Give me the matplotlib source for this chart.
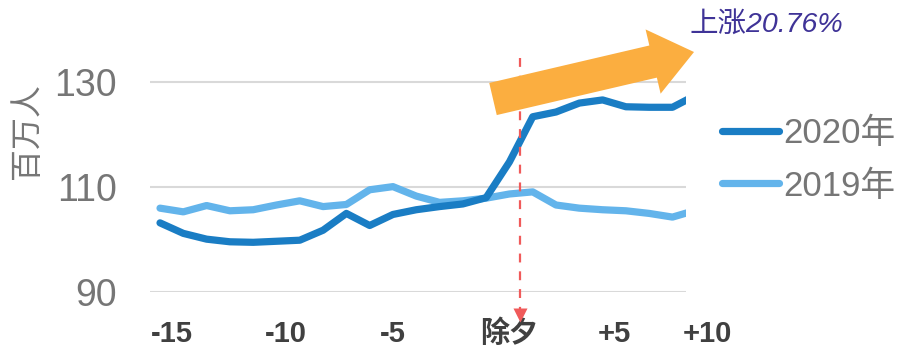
import matplotlib
matplotlib.use("Agg")
from matplotlib import pyplot as plt
from matplotlib import patches, transforms

# data (days relative to New Year's Eve)
days = list(range(-15, 9))
y2020 = [103.1, 101.1, 100.0, 99.5, 99.4, 99.6, 99.8, 101.7, 104.9, 102.6, 104.7, 105.6,
         106.2, 106.7, 107.9, 114.7, 123.3, 124.2, 125.9, 126.5, 125.2, 125.1, 125.1, 127.4]
y2019 = [105.9, 105.2, 106.4, 105.4, 105.6, 106.5, 107.3, 106.2, 106.6, 109.4, 110.0, 108.2,
         107.0, 107.3, 107.8, 108.6, 109.0, 106.5, 105.9, 105.6, 105.4, 104.9, 104.2, 105.5]
yticks = [90, 110, 130]
xtick_pos = [-14.5, -9.6, -5.0, 0.0, 4.5, 8.5]
xtick_labels = ['-15', '-10', '-5', '除夕', '+5', '+10']
eve_x = 0.45
rise_text = '上涨20.76%'

fam = ['Liberation Sans', 'Noto Sans CJK SC']
plt.rcParams['font.family'] = fam

fig = plt.figure(figsize=(9.04, 3.49), dpi=100)
ax = fig.add_axes([150/904, (349-291.7)/349, 536/904, (291.7-29)/349])

ax.plot(days, y2020, color='#1a7dc4', lw=5.2, solid_capstyle='round', solid_joinstyle='round',
        label='2020年', zorder=3)
ax.plot(days, y2019, color='#63b4eb', lw=5.2, solid_capstyle='round', solid_joinstyle='round',
        label='2019年', zorder=2)

ax.set_xlim(-15.43, 7.58)
ax.set_ylim(90, 140)
ax.set_yticks(yticks)
ax.set_yticklabels([str(v) for v in yticks])
ax.tick_params(axis='y', length=0, pad=24, labelsize=27, labelcolor='#767676')
ax.set_xticks([])
for s in ax.spines.values():
    s.set_visible(False)
for v in yticks:
    ax.axhline(v, color='#d9d9d9', lw=1.5, zorder=1)

for p, t in zip(xtick_pos, xtick_labels):
    ax.text(p, -0.16, t, transform=ax.get_xaxis_transform(), ha='center', va='center',
            fontsize=21, fontweight='bold', color='#404040', clip_on=False)

# dashed marker for New Year's Eve
ax.plot([eve_x, eve_x], [134.5, 86.5], color='#f05a5a', lw=1.6, ls=(0, (4, 4)), clip_on=False, zorder=4)
ax.plot([eve_x], [85.6], marker='v', ms=10, color='#f05a5a', mec='none', clip_on=False, zorder=4)

fig.text(28/904, 1-131/349, '百万人', rotation=90, ha='center', va='center',
         fontsize=23, color='#767676')

leg = ax.legend(loc='center left', bbox_to_anchor=(722/904, 1-160/349), bbox_transform=fig.transFigure,
                frameon=False, fontsize=25, handlelength=1.65, handletextpad=0.12, labelspacing=0.55,
                borderpad=0, borderaxespad=0)
for t in leg.get_texts():
    t.set_color('#767676')

# orange arrow in pixel space
arr = patches.FancyArrow(493, 349-99, 201, 47, width=33, head_width=66, head_length=42,
                         length_includes_head=True, color='#fbae40', lw=0,
                         transform=transforms.IdentityTransform(), zorder=5)
fig.add_artist(arr)

fig.text(766/904, 1-25/349, rise_text, ha='center', va='center', fontsize=20.5, style='italic',
         color='#3f3397')

fig.savefig('out.png', dpi=100)
